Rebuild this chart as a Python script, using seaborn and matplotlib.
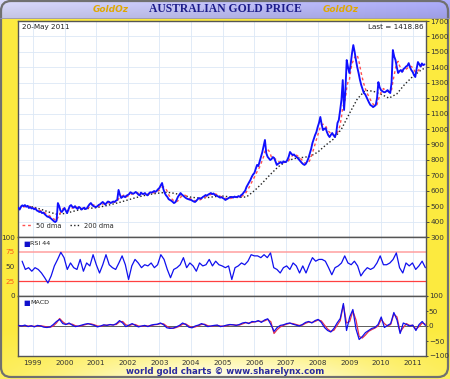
import numpy as np
import pandas as pd
import matplotlib
matplotlib.use("Agg")
import matplotlib.pyplot as plt
import seaborn as sns
from matplotlib.patches import FancyBboxPatch
from matplotlib.lines import Line2D

# ---------------- data (semi-monthly readings, AUD/oz) ----------------
price_1998 = [490, 478, 495, 505, 500, 507, 496, 502, 488, 494, 485]
price_1999 = [488, 480, 484, 472, 468, 462, 465, 455, 458, 448, 440, 432,
              430, 425, 418, 410, 402, 397, 405, 520, 500, 470, 462, 475]
price_2000 = [488, 470, 455, 478, 500, 507, 495, 490, 500, 488, 482, 495,
              488, 478, 485, 490, 481, 486, 500, 512, 520, 508, 500, 497]
price_2001 = [494, 500, 508, 512, 520, 527, 518, 510, 522, 530, 527, 520,
              525, 530, 527, 535, 540, 605, 575, 553, 560, 565, 558, 568]
price_2002 = [572, 578, 590, 585, 580, 585, 592, 585, 575, 570, 588, 580,
              579, 585, 575, 570, 582, 590, 588, 592, 598, 592, 600, 610]
price_2003 = [618, 635, 650, 610, 585, 570, 560, 545, 540, 535, 528, 520,
              525, 540, 560, 572, 585, 575, 568, 560, 553, 548, 545, 542]
price_2004 = [540, 535, 530, 527, 535, 545, 553, 548, 552, 560, 565, 572,
              568, 575, 580, 585, 578, 582, 572, 570, 565, 560, 555, 558]
price_2005 = [553, 548, 540, 545, 550, 555, 558, 560, 556, 562, 558, 560,
              565, 560, 572, 578, 590, 600, 624, 640, 655, 670, 690, 705]
price_2006 = [715, 740, 767, 760, 790, 818, 850, 890, 929, 844, 820, 810,
              799, 805, 818, 812, 790, 767, 775, 780, 786, 778, 790, 786]
price_2007 = [786, 800, 820, 851, 840, 831, 835, 825, 818, 810, 800, 790,
              780, 772, 767, 775, 790, 812, 840, 870, 909, 935, 960, 980]
price_2008 = [1013, 1040, 1078, 1030, 993, 1000, 1006, 980, 960, 948, 962, 974,
              960, 948, 970, 1039, 1058, 1120, 1188, 1317, 1123, 1250, 1447, 1400]
price_2009 = [1363, 1420, 1490, 1544, 1500, 1447, 1400, 1363, 1320, 1285, 1260, 1233,
              1225, 1207, 1190, 1170, 1155, 1150, 1142, 1148, 1155, 1200, 1304, 1270]
price_2010 = [1252, 1245, 1240, 1238, 1245, 1252, 1240, 1233, 1300, 1512, 1470, 1447,
              1400, 1363, 1375, 1382, 1370, 1388, 1395, 1405, 1410, 1427, 1400, 1382]
price_2011 = [1370, 1350, 1337, 1390, 1434, 1420, 1405, 1425, 1414, 1419]

# 200-day moving average, quarterly readings
dma200_values = [500, 500, 495, 480, 462, 448, 452, 465, 478, 485,
                 490, 500, 512, 525, 540, 555, 568, 578, 585, 590,
                 582, 568, 558, 552, 555, 562, 565, 560, 556, 560,
                 600, 650, 705, 755, 790, 808, 815, 822, 850, 895,
                 935, 1000, 1100, 1195, 1250, 1245, 1225, 1200, 1228, 1290,
                 1340, 1380, 1395]

rsi_values = [59, 45, 48, 42, 48, 45, 39, 31, 22, 34, 51, 62, 74, 65, 45, 56, 48, 45, 62, 42,
              56, 51, 70, 53, 39, 53, 70, 53, 48, 45, 56, 68, 53, 28, 51, 62, 56, 48, 53, 51,
              56, 48, 53, 70, 62, 45, 31, 45, 48, 53, 65, 48, 56, 51, 42, 56, 51, 53, 62, 51,
              59, 53, 51, 48,
              51, 28, 48, 51, 56, 53, 59, 70, 68, 68, 65, 70, 65, 73, 48, 45, 39, 48, 51, 45,
              56, 51, 39, 51, 39, 53, 65, 59, 62, 62, 59, 48, 36, 48, 51, 56, 68, 56, 53, 59,
              51, 34, 42, 48, 45, 48, 56, 68, 53, 53, 56, 62, 73, 48, 39, 56, 51, 56, 45, 51,
              59, 48]

macd_values = [2, 0, 3, -2, 1, -3, 2, 0, -4, -5,
               -3, 5, 15, 22, 8, 5, 10, 3, -2, 0,
               3, 6, 8, 5, 2, -3, 0, 4, 2, 5,
               3, 8, 18, 10, -2, 3, 8, 2, -3, 0,
               2, -2, 3, 5, 6, 10, 4, -6, -8, -7,
               -3, 2, 10, 5, -4, -6, 0, 3, 8, 4,
               -2, 0, 2, 3, -2, 0, 3, 5, 4, 2,
               5, 10, 12, 8, 15, 14, 18, 12, 20, 24,
               5, -18, -5, 2, 4, 8, 10, 6, 3, 0,
               5, 12, 15, 10, 18, 22, 12, -5, -15, -20,
               -8, 10, 25, 75, -15, 30, 55, -10, -45, -35,
               -22, -15, -8, -5, 5, 30, -5, 2, 8, 45,
               20, -25, 10, 5, 0, 3, -15, 5, 15, 2]
signal_values = [1, 1, 1, 0, 0, -1, 0, 1, -1, -3,
                 -4, 0, 10, 25, 14, 6, 7, 6, 1, -1,
                 1, 4, 7, 7, 4, 0, -1, 2, 3, 4,
                 4, 5, 14, 15, 4, 1, 5, 5, 0, -1,
                 1, 0, 1, 4, 5, 8, 7, -1, -6, -8,
                 -5, -1, 6, 7, 0, -5, -3, 1, 5, 6,
                 1, -1, 1, 2, 0, -1, 1, 4, 4, 3,
                 3, 7, 11, 10, 12, 14, 16, 15, 17, 22,
                 14, -25, -12, -3, 2, 6, 9, 8, 5, 2,
                 3, 9, 13, 12, 15, 20, 17, 3, -10, -18,
                 -14, 2, 18, 70, 10, 15, 50, 20, -35, -40,
                 -30, -18, -12, -7, 0, 22, 8, 0, 5, 40,
                 30, -20, -5, 8, 2, 2, -10, -2, 10, 6]

years = list(range(1999, 2012))
price_ticks = list(range(300, 1701, 100))
rsi_ticks = [0, 25, 50, 75, 100]
macd_ticks = [-100, -50, 0, 50, 100]
date_label = "20-May 2011"
last_label = "Last = 1418.86"

# ---------------- assemble ----------------
price = (price_1998 + price_1999 + price_2000 + price_2001 + price_2002 + price_2003 +
         price_2004 + price_2005 + price_2006 + price_2007 + price_2008 + price_2009 +
         price_2010 + price_2011)
t0 = 1998.54
df = pd.DataFrame({"t": t0 + np.arange(len(price)) / 24.0, "price": price})
df["dma50"] = df["price"].rolling(5, min_periods=1).mean()
dma_t = np.append(np.arange(len(dma200_values) - 1) * 0.25 + 1998.5, 2011.38)
dma_df = pd.DataFrame({"t": dma_t, "dma200": dma200_values})
rsi_df = pd.DataFrame({"t": np.linspace(1998.66, 2011.40, len(rsi_values)), "rsi": rsi_values})
macd_df = pd.DataFrame({"t": np.linspace(1998.55, 2011.40, len(macd_values)),
                        "macd": macd_values, "signal": signal_values})

sns.set_style("white")
plt.rcParams["font.family"] = ["DejaVu Sans"]

W, H = 450, 379
fig = plt.figure(figsize=(W / 100, H / 100), dpi=100)

# background gradient
bg = fig.add_axes([0, 0, 1, 1], zorder=-10)
yy, xx = np.mgrid[0:H, 0:W]
yellow = np.array([0.99, 0.92, 0.25])
img = np.ones((H, W, 3)) * yellow
glow = np.clip((yy - 330) / 49.0, 0, 1) * np.exp(-((xx - 225) / 170.0) ** 2)
img = img * (1 - glow[..., None]) + glow[..., None] * np.array([1, 1, 0.97])
ban = (yy < 18)
frac = xx / W
banc = np.stack([0.86 - 0.18 * frac, 0.86 - 0.18 * frac, np.ones_like(frac) * 0.99], axis=-1)
shade = (1 - 0.10 * (yy / 18.0))[..., None]
img = np.where(ban[..., None], banc * shade, img)
bg.imshow(img, extent=[0, W, H, 0], aspect="auto")
bg.set_xlim(0, W); bg.set_ylim(H, 0); bg.axis("off")
bg.add_patch(FancyBboxPatch((1, 1), W - 3, H - 3, boxstyle="round,pad=0,rounding_size=10",
                            fill=False, edgecolor="#707070", lw=1.6))
bg.plot([0, W], [18, 18], color="#9090c0", lw=0.6)

fig.text(0.5, 1 - 9.5 / H, "AUSTRALIAN GOLD PRICE", ha="center", va="center",
         family="Liberation Serif", fontweight="bold", fontsize=8.4, color="#1c1c8a")
for xc in (111, 341):
    fig.text(xc / W, 1 - 10 / H, "GoldOz", ha="center", va="center", fontsize=6.5,
             fontweight="bold", fontstyle="italic", color="#e0a800")
fig.text(0.5, 1 - 372 / H, "world gold charts \u00a9 www.sharelynx.com", ha="center",
         va="center", fontsize=6.2, fontweight="bold", color="#2a2aa0")

L, R = 18 / W, 426 / W
def box(top, bot):
    return [L, 1 - bot / H, R - L, (bot - top) / H]

ax1 = fig.add_axes(box(21, 237))
ax2 = fig.add_axes(box(237, 296), sharex=ax1)
ax3 = fig.add_axes(box(296, 356), sharex=ax1)

grid_c = "#dce8f6"
for ax in (ax1, ax2, ax3):
    ax.set_facecolor("white")
    for s in ax.spines.values():
        s.set_color("#555555"); s.set_linewidth(1.0)
    for y in years:
        ax.axvline(y, color=grid_c, lw=0.6, zorder=0)
    ax.tick_params(labelsize=5.2, length=2.0, width=0.6, colors="#333333", pad=1.0)

# main panel
for p in price_ticks:
    ax1.axhline(p, color=grid_c, lw=0.6, zorder=0)
sns.lineplot(data=dma_df, x="t", y="dma200", ax=ax1, color="#222222", lw=1.0, zorder=2)
ax1.lines[-1].set_linestyle((0, (1, 1.6)))
sns.lineplot(data=df, x="t", y="dma50", ax=ax1, color="#ff5050", lw=1.0, zorder=3)
ax1.lines[-1].set_linestyle((0, (2, 2)))
sns.lineplot(data=df, x="t", y="price", ax=ax1, color="#1010ff", lw=1.35, zorder=4)
ax1.set_ylim(300, 1700)
ax1.set_xlim(1998.53, 2011.42)
ax1.yaxis.tick_right()
ax1.set_yticks(price_ticks)
ax1.tick_params(axis="x", bottom=False, labelbottom=False)
ax1.set_xlabel(""); ax1.set_ylabel("")
ax1.text(0.01, 0.985, date_label, transform=ax1.transAxes, ha="left", va="top", fontsize=5.2, color="#222")
ax1.text(0.995, 0.985, last_label, transform=ax1.transAxes, ha="right", va="top", fontsize=5.2, color="#222")
handles = [Line2D([], [], color="#ff5050", ls=(0, (2, 2)), lw=1.0),
           Line2D([], [], color="#222222", ls=(0, (1, 1.6)), lw=1.0)]
ax1.legend(handles, ["50 dma", "200 dma"], loc="lower left", ncol=2, frameon=False,
           fontsize=4.8, handlelength=1.6, handletextpad=0.5, columnspacing=1.2,
           bbox_to_anchor=(0.0, 0.02), borderaxespad=0.2)

# RSI panel
ax2.axhline(75, color="#ff9f9f", lw=1.1, zorder=1)
ax2.axhline(25, color="#ff4040", lw=0.9, zorder=1)
sns.lineplot(data=rsi_df, x="t", y="rsi", ax=ax2, color="#1010ee", lw=0.9, zorder=3)
ax2.set_ylim(0, 100)
ax2.set_yticks(rsi_ticks)
ax2.tick_params(axis="x", bottom=False, labelbottom=False)
ax2.tick_params(axis="y", length=1.5, pad=0.6)
ax2.set_xlabel(""); ax2.set_ylabel("")
for lab, v in zip(ax2.get_yticklabels(), rsi_ticks):
    lab.set_color("#ff5a1a" if v in (25, 75) else "#333333")
ax2.text(0.012, 0.93, "\u25a0", transform=ax2.transAxes, fontsize=5, color="#1010cc", va="top")
ax2.text(0.03, 0.93, "RSI 44", transform=ax2.transAxes, fontsize=4.6, color="#222", va="top")

# MACD panel
sns.lineplot(data=macd_df, x="t", y="signal", ax=ax3, color="#e03050", lw=0.9, zorder=3)
sns.lineplot(data=macd_df, x="t", y="macd", ax=ax3, color="#1010ee", lw=0.9, zorder=4)
ax3.axhline(0, color="#444444", lw=0.6, zorder=2)
ax3.set_ylim(-100, 100)
ax3.yaxis.tick_right()
ax3.set_yticks(macd_ticks)
ax3.tick_params(axis="y", length=1.5, pad=0.6)
ax3.set_xticks(years)
ax3.set_xticklabels([str(y) for y in years])
ax3.set_xlabel(""); ax3.set_ylabel("")
ax3.text(0.012, 0.93, "\u25a0", transform=ax3.transAxes, fontsize=5, color="#1010cc", va="top")
ax3.text(0.03, 0.93, "MACD", transform=ax3.transAxes, fontsize=4.6, color="#222", va="top")

fig.savefig("out.png", dpi=100)
